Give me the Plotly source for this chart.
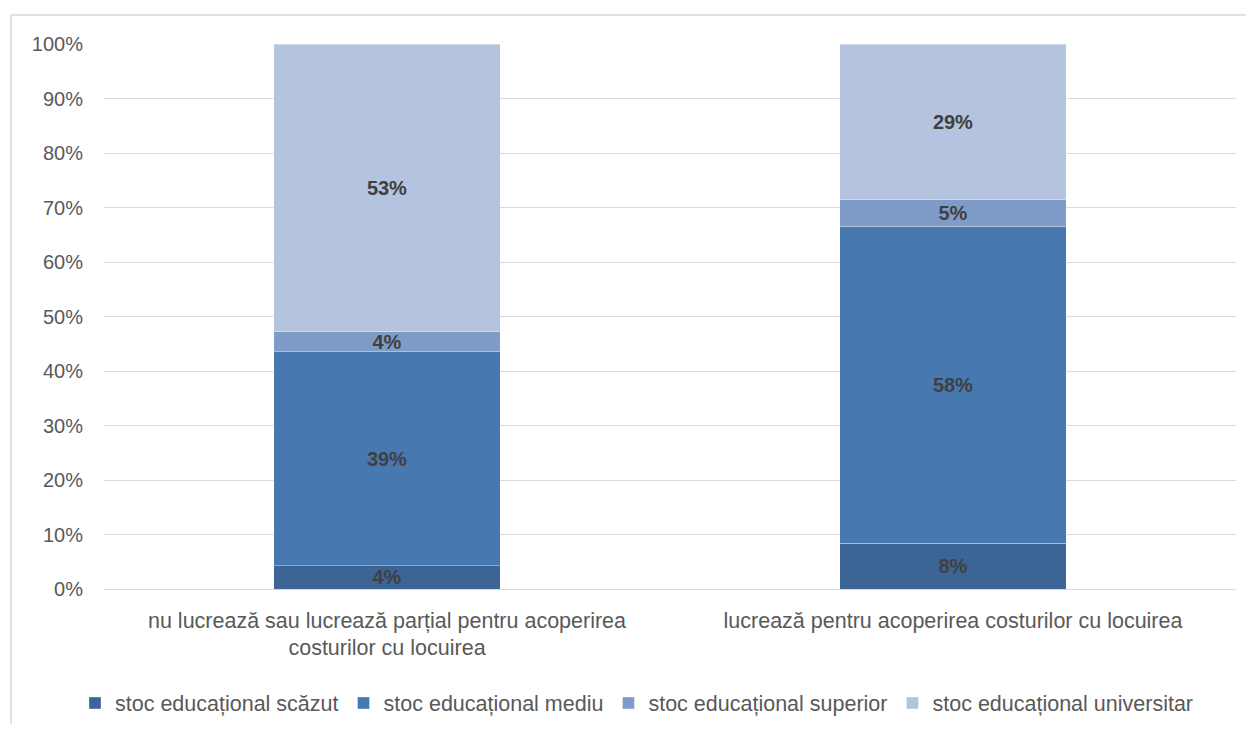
import plotly.graph_objects as go

categories = [
    "nu lucrează sau lucrează parțial pentru acoperirea<br>costurilor cu locuirea",
    "lucrează pentru acoperirea costurilor cu locuirea",
]
series_names = [
    "stoc educațional scăzut",
    "stoc educațional mediu",
    "stoc educațional superior",
    "stoc educațional universitar",
]
scazut = [4.3, 8.4]
mediu = [39.2, 58.2]
superior = [3.7, 4.8]
universitar = [52.8, 28.6]
colors = ["#3C6494", "#4878B0", "#7F9CC8", "#B4C4DE"]
tick_vals = [0, 10, 20, 30, 40, 50, 60, 70, 80, 90, 100]
tick_text = [f"{v}%" for v in tick_vals]

# page body has an 8px margin; figure sized to fit the 1254x732 window
OFF = 8
W, H = 1254 - 2 * OFF, 732 - 2 * OFF
# plot area in window pixels: x 104..1236, y 44..589
ml = 104 - OFF
mt = 44 - OFF
mr = W - (1236 - OFF)
mb = H - (589 - OFF)
pw, ph = W - ml - mr, H - mt - mb

def px_x(p):
    return (p - OFF - ml) / pw

def px_y(p):
    return (H - mb - (p - OFF)) / ph

def cont_x(p):
    return (p - OFF) / W

def cont_y(p):
    return 1 - (p - OFF) / H

FONT = "Liberation Sans, Arial, sans-serif"

fig = go.Figure()
for name, vals, col in zip(series_names, [scazut, mediu, superior, universitar], colors):
    fig.add_trace(go.Bar(
        x=categories, y=vals, name=name,
        marker=dict(color=col, line=dict(color="rgba(255,255,255,0.35)", width=1)),
        texttemplate="<b>%{y:.0f}%</b>", textposition="inside",
        insidetextanchor="middle",
        textfont=dict(family=FONT, size=20, color="#404040"),
        constraintext="none",
    ))

fig.update_layout(
    width=W, height=H,
    barmode="stack", bargap=0.6,
    paper_bgcolor="white", plot_bgcolor="white",
    margin=dict(l=ml, r=mr, t=mt, b=mb, autoexpand=False),
    font=dict(family=FONT, color="#595959", size=21),
    uniformtext=dict(mode=False),
    showlegend=True,
    legend=dict(orientation="h", xref="container", yref="container",
                x=cont_x(637), xanchor="center", y=cont_y(703), yanchor="middle",
                font=dict(size=21.5, color="#595959"), traceorder="normal",
                itemwidth=30, tracegroupgap=0),
    xaxis=dict(showgrid=False, showline=False, ticks="", ticklabelstandoff=16, automargin=False,
               tickfont=dict(size=21.5, color="#595959")),
    yaxis=dict(range=[0, 100], tickvals=tick_vals, ticktext=tick_text, automargin=False,
               showgrid=True, gridcolor="#D9D9D9", gridwidth=1,
               zeroline=True, zerolinecolor="#D9D9D9", zerolinewidth=1,
               showline=False, ticks="", ticklabelstandoff=20,
               tickfont=dict(size=20, color="#595959")),
    shapes=[
        dict(type="line", xref="paper", yref="paper",
             x0=px_x(11), x1=px_x(11), y0=px_y(740), y1=px_y(15),
             line=dict(color="#D9D9D9", width=1.5), layer="below"),
        dict(type="line", xref="paper", yref="paper",
             x0=px_x(11), x1=px_x(1260), y0=px_y(15), y1=px_y(15),
             line=dict(color="#D9D9D9", width=1.5), layer="below"),
    ],
)

fig.write_html("out.html")
